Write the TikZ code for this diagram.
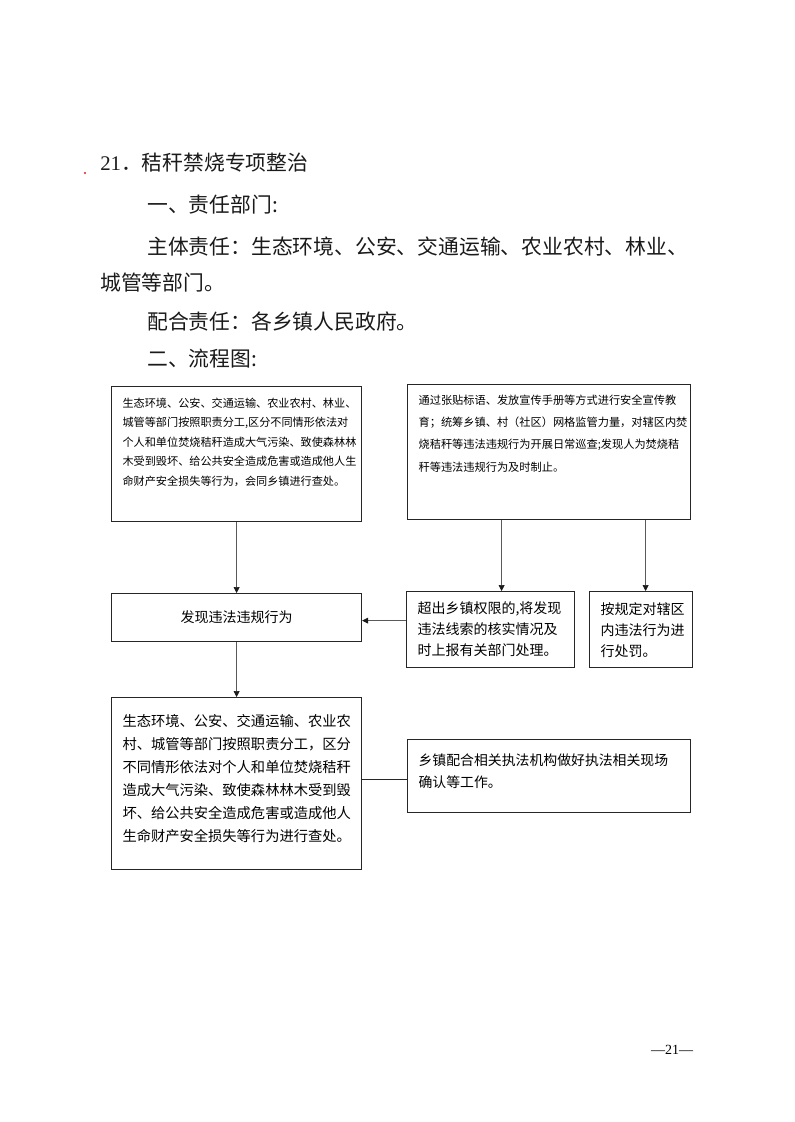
\documentclass[tikz,border=0pt]{standalone}
\usepackage{fontspec}
\setmainfont{Noto Sans CJK SC}
\newfontfamily\latinserif{Liberation Serif}
\usetikzlibrary{arrows.meta}
\definecolor{JGInk}{HTML}{1A1A1A}
\definecolor{JGLine}{HTML}{262626}
\definecolor{JGLink}{HTML}{5A5A5A}
\definecolor{JGDot}{HTML}{E02020}
% width, height, font size, line skip, top gap, lines
\newcommand{\boxlines}[6]{\parbox[t][#2][t]{#1}{\fontsize{#3}{#4}\selectfont\raggedright\leftskip=8.25pt\relax\vspace*{#5}#6}}

\begin{document}
\begin{tikzpicture}[x=0.75pt,y=-0.75pt,
  flowbox/.style={draw=JGLine,line width=.9pt,inner sep=0pt,anchor=north west},
  flowarrow/.style={draw=JGLink,line width=.5pt,-{Triangle[length=4.5pt,width=4.5pt,color=JGInk]}},
  plainline/.style={draw=JGLine,line width=.6pt},
  bodyline/.style={anchor=west,inner sep=0pt,text=JGInk,font=\fontsize{15.6pt}{19pt}\selectfont}]
\path[use as bounding box] (0,0) rectangle (794,1122);
\fill[white] (0,0) rectangle (794,1122);
\fill[JGDot] (85,173) circle (1.2);
% heading and duty text
\node[bodyline] (secTitle) at (100,163) {{\latinserif 21}．秸秆禁烧专项整治};
\node[bodyline] (dutyHead) at (147,205) {一、责任部门:};
\node[bodyline] (mainDuty) at (147,247) {主体责任：生态环境、公安、交通运输、农业农村、林业、};
\node[bodyline] (mainDutyTail) at (100,283) {城管等部门。};
\node[bodyline] (coopDuty) at (147,322) {配合责任：各乡镇人民政府。};
\node[bodyline] (flowHead) at (147,359) {二、流程图:};
% flow chart boxes
\node[flowbox] (deptBox) at (111,386) {\boxlines{187.5pt}{101.25pt}{8.35pt}{14.6pt}{8.4pt}{%
生态环境、公安、交通运输、农业农村、林业、\\
城管等部门按照职责分工,区分不同情形依法对\\
个人和单位焚烧秸秆造成大气污染、致使森林林\\
木受到毁坏、给公共安全造成危害或造成他人生\\
命财产安全损失等行为，会同乡镇进行查处。}};
\node[flowbox] (townBox) at (407,384) {\boxlines{212.25pt}{101.25pt}{8.4pt}{16.8pt}{7.5pt}{%
通过张贴标语、发放宣传手册等方式进行安全宣传教\\
育；统筹乡镇、村（社区）网格监管力量，对辖区内焚\\
烧秸秆等违法违规行为开展日常巡查;发现人为焚烧秸\\
秆等违法违规行为及时制止。}};
\node[flowbox,minimum width=187.5pt,minimum height=36pt] (findBox) at (111,593)
  {\fontsize{10.5pt}{12pt}\selectfont 发现违法违规行为};
\node[flowbox] (reportBox) at (406,591) {\boxlines{126pt}{57pt}{10.5pt}{15.75pt}{7.9pt}{%
超出乡镇权限的,将发现\\
违法线索的核实情况及\\
时上报有关部门处理。}};
\node[flowbox] (punishBox) at (589,591) {\boxlines{77.25pt}{57pt}{10.5pt}{15.75pt}{7.9pt}{%
按规定对辖区\\
内违法行为进\\
行处罚。}};
\node[flowbox] (handleBox) at (111,697) {\boxlines{187.5pt}{129pt}{10.7pt}{17.25pt}{12.65pt}{%
生态环境、公安、交通运输、农业农\\
村、城管等部门按照职责分工，区分\\
不同情形依法对个人和单位焚烧秸秆\\
造成大气污染、致使森林林木受到毁\\
坏、给公共安全造成危害或造成他人\\
生命财产安全损失等行为进行查处。}};
\node[flowbox] (assistBox) at (407,739) {\boxlines{212.25pt}{54.75pt}{10.4pt}{16.5pt}{10.5pt}{%
乡镇配合相关执法机构做好执法相关现场\\
确认等工作。}};
% connectors
\draw[flowarrow] (deptBox.south) -- (findBox.north);
\draw[flowarrow] ([xshift=8.25pt]reportBox.north |- townBox.south) -- ([xshift=8.25pt]reportBox.north);
\draw[flowarrow] ([xshift=3.4pt]punishBox.north |- townBox.south) -- ([xshift=3.4pt]punishBox.north);
\draw[flowarrow] ([yshift=-2.25pt]findBox.east -| reportBox.west) -- ([yshift=-2.25pt]findBox.east);
\draw[flowarrow] (findBox.south) -- (handleBox.north);
\draw[plainline] ([yshift=-2.5pt]assistBox.west) -- ([yshift=-2.5pt]assistBox.west -| handleBox.east);
\node[inner sep=0pt] (pageNum) at (672,1050) {\fontsize{10.5pt}{12pt}\selectfont\latinserif —21—};
\end{tikzpicture}
\end{document}
